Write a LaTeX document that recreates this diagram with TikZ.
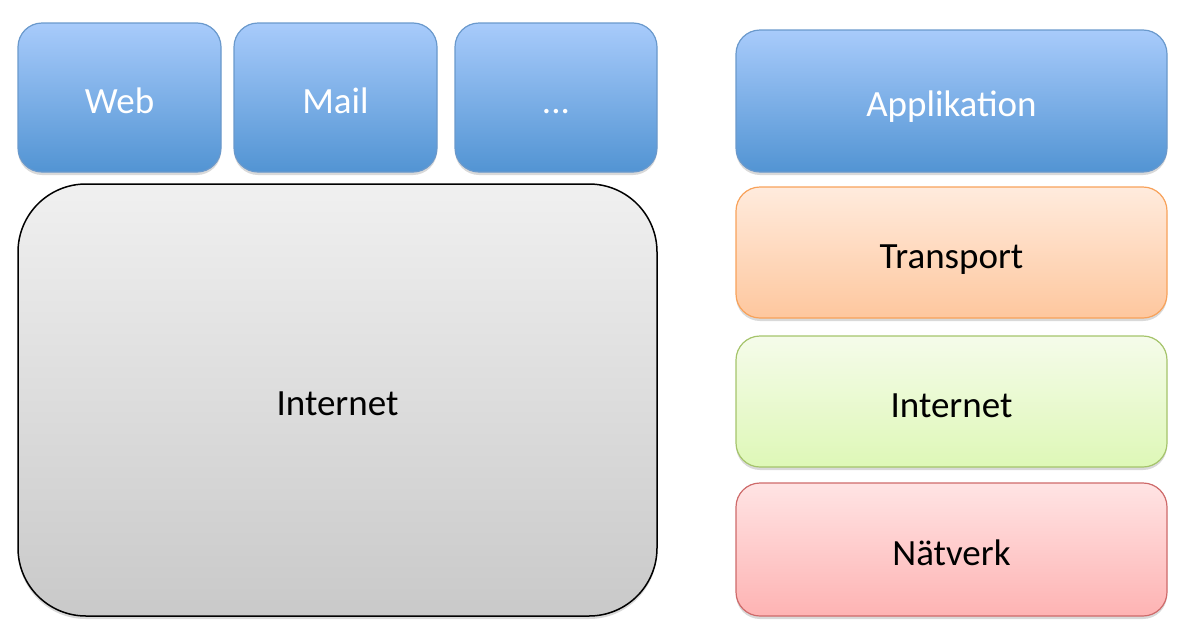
\documentclass[tikz,border=0pt]{standalone}
\usepackage{fontspec}
\setmainfont{Carlito}
\usetikzlibrary{shadows}
\definecolor{bluetop}{HTML}{A8CBFB}
\definecolor{bluebot}{HTML}{5294D3}
\definecolor{blueline}{HTML}{6A99CC}
\definecolor{ortop}{HTML}{FFEBDD}
\definecolor{orbot}{HTML}{FEC79E}
\definecolor{orline}{HTML}{F8A25A}
\definecolor{grtop}{HTML}{F5FBEA}
\definecolor{grbot}{HTML}{DEF8B7}
\definecolor{grline}{HTML}{A5C46B}
\definecolor{rdtop}{HTML}{FFE4E4}
\definecolor{rdbot}{HTML}{FEB3B3}
\definecolor{rdline}{HTML}{CE6A6A}
\definecolor{gytop}{HTML}{F0F0F0}
\definecolor{gybot}{HTML}{C9C9C9}
\tikzset{
  box/.style={rectangle, rounded corners=24pt, line width=1.2pt,
    font=\fontsize{37}{44}\selectfont, inner sep=0pt, text height=31pt, text depth=0pt,
    drop shadow={shadow xshift=0pt, shadow yshift=-3pt, opacity=0.25, fill=black!60}},
  bluebox/.style={box, draw=blueline, top color=bluetop, bottom color=bluebot, text=white},
  orbox/.style={box, draw=orline, top color=ortop, bottom color=orbot, text=black},
  grbox/.style={box, draw=grline, top color=grtop, bottom color=grbot, text=black},
  rdbox/.style={box, draw=rdline, top color=rdtop, bottom color=rdbot, text=black},
  gybox/.style={box, rounded corners=68pt, draw=black, line width=1.5pt, top color=gytop, bottom color=gybot, text=black},
}
\begin{document}
\begin{tikzpicture}[x=1pt,y=-1pt]
\useasboundingbox (0,0) rectangle (1193,643);
\node[bluebox, minimum width=203pt, minimum height=149pt] (web) at (119.5,97.5) {Web};
\node[bluebox, minimum width=203pt, minimum height=149pt] (mail) at (335.5,97.5) {Mail};
\node[bluebox, minimum width=202pt, minimum height=149pt] (dots) at (556,97.5) {.\kern0pt.\kern0pt.};
\node[gybox, minimum width=639pt, minimum height=432pt] (inet) at (337.5,400) {Internet};
\node[bluebox, minimum width=431pt, minimum height=142pt] (app) at (951.5,101) {Applikation};
\node[orbox, minimum width=431pt, minimum height=131pt] (trans) at (951.5,252.5) {Transport};
\node[grbox, minimum width=431pt, minimum height=131pt] (inet2) at (951.5,401.5) {Internet};
\node[rdbox, minimum width=431pt, minimum height=133pt] (net) at (951.5,549.5) {Nätverk};
\end{tikzpicture}
\end{document}
